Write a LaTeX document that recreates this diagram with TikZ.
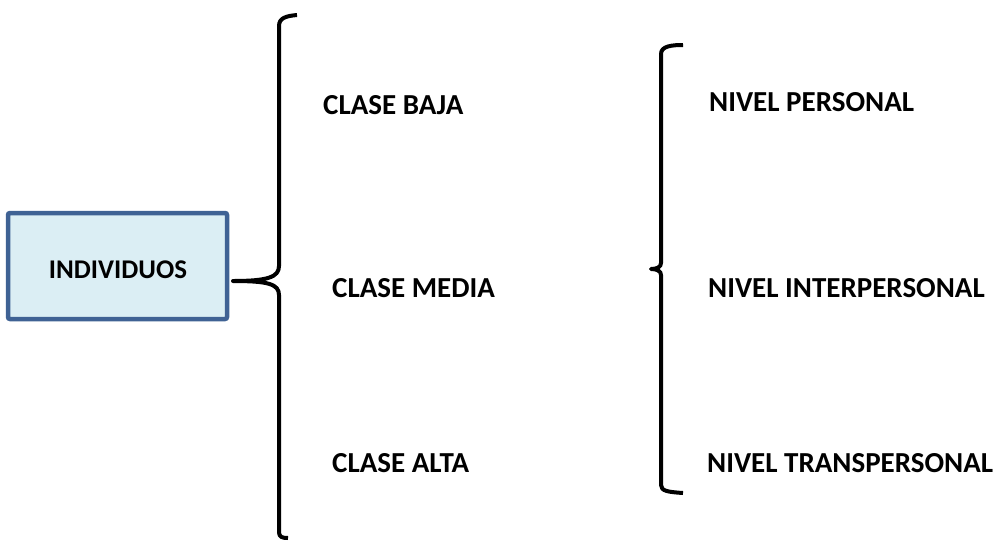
\documentclass[tikz,border=0pt]{standalone}
\usepackage{fontspec}
\setmainfont{Carlito}
\begin{document}
\begin{tikzpicture}[x=1pt,y=-1pt,
  lbl/.style={anchor=base west,inner sep=0pt,font=\fontsize{29}{34}\selectfont\bfseries},
  bracestyle/.style={line width=4pt,line join=round,line cap=butt},
  boxstyle/.style={draw=boxblue,fill=boxfill,line width=4.5pt,rounded corners=2pt}]
\definecolor{boxblue}{HTML}{3F6294}
\definecolor{boxfill}{HTML}{DBEEF4}
\useasboundingbox (0,0) rectangle (1000,541);
% box
\draw[boxstyle] (8,213) rectangle (227,319);
\node[inner sep=0pt,anchor=base,font=\fontsize{27}{32}\selectfont\bfseries] (ind) at (118,278) {INDIVIDUOS};
% big brace
\draw[bracestyle] (297,15) .. controls (286,16) and (279,18) .. (279,26)
  -- (279,266) .. controls (279,277) and (268,281) .. (233,281)
  .. controls (268,281) and (279,284) .. (279,295)
  -- (279,532) .. controls (279,537) and (282,538) .. (288,538);
% small brace
\draw[bracestyle] (683,45) .. controls (672,45) and (661,46) .. (661,54)
  -- (661,263) .. controls (661,267) and (657,269) .. (651,269)
  .. controls (657,269) and (661,271) .. (661,275)
  -- (661,485) .. controls (661,491) and (668,492) .. (683,493);
% labels
\node[lbl] (baja) at (323,114) {CLASE BAJA};
\node[lbl] (media) at (332,297) {CLASE MEDIA};
\node[lbl] (alta) at (332,472) {CLASE ALTA};
\node[lbl] (pers) at (709,111) {NIVEL PERSONAL};
\node[lbl] (inter) at (708,297) {NIVEL INTERPERSONAL};
\node[lbl] (trans) at (707,472) {NIVEL TRANSPERSONAL};
\end{tikzpicture}
\end{document}
